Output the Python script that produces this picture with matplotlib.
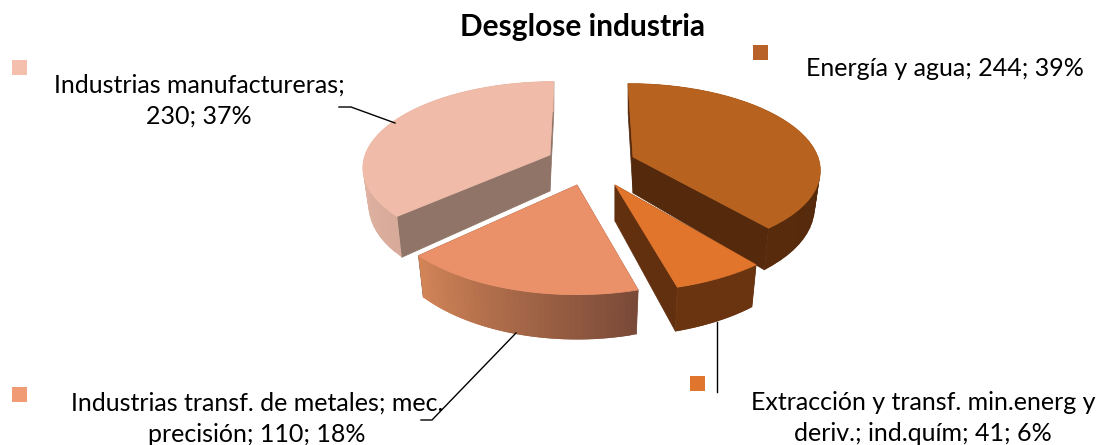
import numpy as np
import matplotlib
matplotlib.use('Agg')
import matplotlib.pyplot as plt
from matplotlib.colors import to_rgb
from matplotlib.patches import Polygon, Rectangle

plt.rcParams['font.family'] = ['Lato', 'DejaVu Sans']

categories = ['Energía y agua', 'Extracción y transf. min.energ y deriv.; ind.quím',
              'Industrias transf. de metales; mec. precisión', 'Industrias manufactureras']
values = [244, 41, 110, 230]
labels = ['Energía y agua; 244; 39%',
          'Extracción y transf. min.energ y\nderiv.; ind.quím; 41; 6%',
          'Industrias transf. de metales; mec.\nprecisión; 110; 18%',
          'Industrias manufactureras;\n230; 37%']
title = 'Desglose industria'

# colours per slice: top, cut face, wall left end, wall right end, legend
top_colors = ['#b8621f', '#e0752b', '#ea9169', '#f0bba9']
cut_colors = ['#55290c', '#63300f', '#7c4d3a', '#8f7467']
wall_left = ['#5a2d0c', '#6a3411', '#d58658', '#e0b3a2']
wall_right = ['#55290c', '#6a3411', '#7a4a38', '#d0a292']
legend_colors = ['#b8622a', '#e0752e', '#f19b74', '#f4bfad']

# where each exploded slice sits, and how big it looks
apex = [(633, 157), (615, 185), (577, 185), (550, 155)]
scale_x = [1.0, 1.08, 1.06, 1.0]
scale_y = [1.0, 1.12, 1.15, 1.0]
skew = [0.068, 0.0, 0.0, -0.054]
legend_pos = [(753, 45), (690, 376), (12, 387), (12, 60)]
label_pos = [(945, 68), (923, 418), (257, 419), (199, 101)]
leaders = [None,
           [(717, 322), (717, 392)],
           [(516, 333), (432, 420), (421, 420)],
           [(339, 107), (351, 107), (395, 123)]]

RX, RY, PERSP = 185, 83, 0.13
DEPTH = 36


def project(theta, i):
    x = np.sin(theta)
    y = -np.cos(theta)
    w = 1 - PERSP * y
    sy = scale_y[i] * RY * y / w
    sx = scale_x[i] * RX * x / w + skew[i] * sy
    return sx, sy


def bottom(ax_, ay_, sx, sy):
    return ax_ + 0.97 * sx, ay_ + DEPTH + 1.08 * sy


def blend(c1, c2, t):
    a, b = np.array(to_rgb(c1)), np.array(to_rgb(c2))
    return tuple(a + (b - a) * t)


fig = plt.figure(figsize=(11.01, 4.45), dpi=100)
ax = fig.add_axes([0, 0, 1, 1])
ax.set_xlim(0, 1101)
ax.set_ylim(445, 0)
ax.axis('off')

edges = np.cumsum([0] + values) / sum(values) * 2 * np.pi

for i in [3, 0, 1, 2]:
    th = np.linspace(edges[i], edges[i + 1], 40)
    sx, sy = project(th, i)
    cx, cy = apex[i]
    bx, by = bottom(cx, cy, sx, sy)
    b0x, b0y = bottom(cx, cy, 0, 0)

    # cut faces first, the top face hides whichever is at the back
    for k in [0, -1]:
        pts = [(cx, cy), (cx + sx[k], cy + sy[k]), (bx[k], by[k]), (b0x, b0y)]
        ax.add_patch(Polygon(pts, fc=cut_colors[i], ec=cut_colors[i], lw=0.5))

    # outer wall, strips shaded left to right, each one overlaps the next so no seams
    order = np.argsort(sx)
    rank = np.argsort(order) / (len(th) - 1)
    for j in range(len(th) - 1):
        n = min(j + 2, len(th) - 1)
        c = blend(wall_left[i], wall_right[i], rank[j])
        pts = [(cx + sx[j], cy + sy[j]), (cx + sx[n], cy + sy[n]),
               (bx[n], by[n]), (bx[j], by[j])]
        ax.add_patch(Polygon(pts, fc=c, ec='none'))

    top = [(cx, cy)] + list(zip(cx + sx, cy + sy))
    ax.add_patch(Polygon(top, fc=top_colors[i], ec=top_colors[i], lw=0.5))

for i in range(len(values)):
    if leaders[i]:
        xs, ys = zip(*leaders[i])
        ax.plot(xs, ys, color='black', lw=1)
    x, y = legend_pos[i]
    ax.add_patch(Rectangle((x, y), 15, 15, fc=legend_colors[i], ec='none'))
    ax.text(label_pos[i][0], label_pos[i][1], labels[i], ha='center', va='center',
            fontsize=18, color='black', linespacing=1.42)

ax.text(583, 27, title, ha='center', va='center', fontsize=21.5, fontweight='bold')

fig.savefig('out.png', dpi=100)
